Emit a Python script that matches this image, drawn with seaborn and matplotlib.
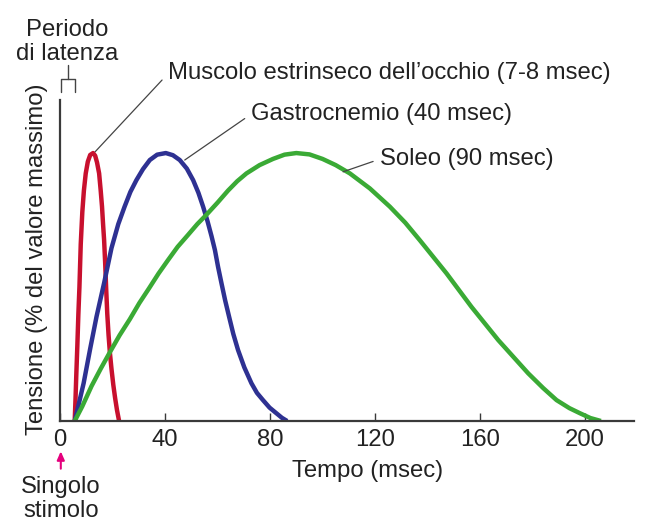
"""
Contrazione muscolare: tensione vs tempo per tre muscoli (scossa singola).
Salva out.png (647x527).
"""
import matplotlib
matplotlib.use('Agg')
import matplotlib.pyplot as plt
import seaborn as sns

# valori: tempo (msec) e tensione (% del valore massimo)
occhio_t = [5.6, 5.9, 6.2, 6.6, 7.0, 7.4, 7.9, 8.5, 9.1, 9.8, 10.6, 11.5, 12.6, 13.4,
            14.1, 14.9, 15.5, 16.0, 16.4, 16.8, 17.2, 17.6, 18.0, 18.5, 19.0, 19.6, 20.3,
            21.0, 21.7, 22.5]
occhio_v = [0, 8, 17, 28, 40, 50, 66, 78, 86, 92.4, 96.8, 99.3, 100, 99,
            96.5, 92.4, 86, 80, 73.5, 67.5, 59, 49, 40, 32, 25.5, 19.5, 13.5,
            8.5, 4.1, 0]

gastro_t = [5.6, 7.3, 9.0, 11.5, 13.9, 16.8, 19.6, 22.2, 24.6, 26.8, 29.1, 31.6, 34.2, 37.0,
            40.3, 43.0, 45.6, 48.3, 50.7, 52.7, 54.5, 56.2, 57.7, 59.0, 60.2, 61.5, 62.9, 64.4,
            66.0, 67.8, 70.2, 72.9, 75.0, 77.3, 79.8, 82.4, 84.5, 86.5]
gastro_v = [0, 7, 14.1, 27, 38.9, 51.5, 64.5, 73.5, 80, 85.5, 89.9, 94.0, 97.4, 99.4,
            100, 99.2, 97.4, 94.2, 89.9, 85.2, 80, 74.5, 69, 63.8, 57.5, 51.4, 45, 38.9,
            32.5, 26.5, 20, 14.1, 10.5, 7.8, 5, 2.9, 1.2, 0]

soleo_t = [5.6, 8.5, 12.0, 15.5, 18.9, 22.7, 26.6, 30.2, 33.9, 37.5, 41.1, 44.8, 48.8, 52.3,
           55.8, 60.0, 64.0, 67.5, 71.0, 76.0, 81.1, 85.5, 90.0, 95.0, 100.0, 105.0, 110.4,
           118.0, 125.6, 131.5, 137.0, 147.2, 156.7, 166.9, 178.3, 184.0, 189.1, 194.0,
           198.0, 202.0, 206.0]
soleo_v = [0, 5.5, 13, 19.5, 25.5, 32, 38, 44, 49.5, 55, 60, 65, 69.5, 73.5,
           77, 81.5, 86, 89.5, 92.4, 95.5, 97.8, 99.4, 100, 99.5, 97.8, 95.5, 92.4,
           86.8, 80, 74.0, 67.5, 55.1, 42.6, 30.2, 17.8, 12.3, 7.8, 4.8,
           2.9, 1.1, 0]

etichette = ['Muscolo estrinseco dell\u2019occhio (7-8 msec)',
             'Gastrocnemio (40 msec)',
             'Soleo (90 msec)']
colori = ['#c8102e', '#2e3192', '#3aaa35']
x_ticks = [0, 40, 80, 120, 160, 200]
latenza = 5.6

sns.set_style('white')
plt.rcParams['font.family'] = ['Liberation Sans', 'DejaVu Sans']
testo = '#222222'
asse = '#3a3a3a'
fs = 17.2

fig = plt.figure(figsize=(6.47, 5.27), dpi=100)
ax = fig.add_axes([60 / 647, 106 / 527, 574 / 647, 321 / 527])

curve = [(occhio_t, occhio_v), (gastro_t, gastro_v), (soleo_t, soleo_v)]
for (t, v), c in zip(curve, colori):
    sns.lineplot(x=t, y=v, color=c, lw=3.2, ax=ax, sort=False, estimator=None,
                 solid_capstyle='butt')

ax.set_xlim(0, 218.6)
ax.set_ylim(0, 119.8)
ax.set_xticks(x_ticks)
ax.set_yticks([])
ax.tick_params(axis='x', bottom=True, direction='in', length=6, width=1, color=asse,
               labelsize=fs, labelcolor=testo, pad=6)
for s in ['top', 'right']:
    ax.spines[s].set_visible(False)
for s in ['left', 'bottom']:
    ax.spines[s].set_color(asse)
    ax.spines[s].set_linewidth(1.6)

ax.set_xlabel('Tempo (msec)', fontsize=fs, color=testo)
ax.xaxis.set_label_coords(0.535, -0.122)
ax.set_ylabel('Tensione (% del valore massimo)', fontsize=fs, color=testo)
ax.yaxis.set_label_coords(-0.021, 0.505)

# etichette delle curve con linee di richiamo
punti = [(13.4, 100.5), (47.5, 97.4), (107.8, 93.0)]
pos_testo = [(41.2, 129.7), (72.9, 114.6), (122.0, 97.8)]
for lab, xy, xyt in zip(etichette, punti, pos_testo):
    ax.annotate(lab, xy=xy, xytext=xyt, ha='left', va='center', fontsize=fs, color=testo,
                annotation_clip=False,
                arrowprops=dict(arrowstyle='-', color='#444444', lw=0.9,
                                relpos=(0, 0.5), shrinkA=3, shrinkB=0))

# periodo di latenza
ax.plot([0.3, 0.3, latenza + 0.3, latenza + 0.3], [122.8, 127.6, 127.6, 122.8],
        color='#444444', lw=1, clip_on=False)
ax.plot([latenza / 2 + 0.3] * 2, [127.6, 132.8], color='#444444', lw=1, clip_on=False)
ax.text(2.7, 141.5, 'Periodo\ndi latenza', ha='center', va='center', fontsize=fs,
        color=testo, linespacing=1.1)

# stimolo
ax.annotate('', xy=(0.3, -11.3), xytext=(0.3, -17.8), annotation_clip=False,
            arrowprops=dict(arrowstyle='-|>,head_length=0.5,head_width=0.22',
                            color='#e5007d', lw=1.5, shrinkA=0, shrinkB=0))
ax.text(0.3, -29.0, 'Singolo\nstimolo', ha='center', va='center', fontsize=fs,
        color=testo, linespacing=1.1)

plt.savefig('out.png', dpi=100)
